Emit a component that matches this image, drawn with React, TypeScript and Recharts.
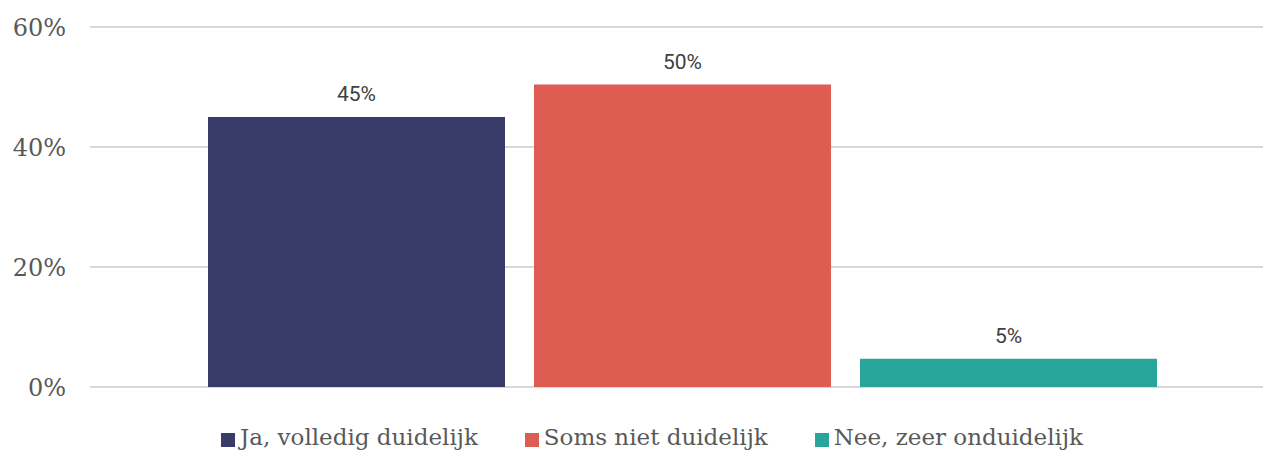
import React from "react";
import { BarChart, Bar, XAxis, YAxis, CartesianGrid, Legend, LabelList } from "recharts";

const categories = ["Antwoord"];
const seriesNames = ["Ja, volledig duidelijk", "Soms niet duidelijk", "Nee, zeer onduidelijk"];
const seriesValues = [45.0, 50.4, 4.7];
const seriesColors = ["#383b68", "#de5d52", "#2aa59b"];
const yTicks = [0, 20, 40, 60];

const data = categories.map((c) => {
  const row: Record<string, string | number> = { cat: c };
  seriesNames.forEach((n, i) => {
    row[n] = seriesValues[i];
  });
  return row;
});

const serif = "'DejaVu Serif', serif";

const LegendContent = () => (
  <div
    style={{
      height: 63,
      boxSizing: "border-box",
      paddingTop: 38,
      paddingLeft: 40,
      display: "flex",
      justifyContent: "center",
      alignItems: "flex-start",
      fontFamily: serif,
      fontSize: 23,
      lineHeight: "24px",
      color: "#595959",
      whiteSpace: "nowrap",
    }}
  >
    {seriesNames.map((n, i) => (
      <div
        key={n}
        style={{ display: "flex", alignItems: "flex-start", marginLeft: i === 0 ? 0 : 47 }}
      >
        <span
          style={{
            display: "inline-block",
            width: 14,
            height: 14,
            background: seriesColors[i],
            marginTop: 8,
            marginRight: 5,
          }}
        />
        <span>{n}</span>
      </div>
    ))}
  </div>
);

export default function App() {
  return (
    <div style={{ position: "absolute", left: 0, top: 0, width: 1264, height: 450, overflow: "hidden", background: "#fff" }}>
      <BarChart
        width={1264}
        height={450}
        data={data}
        margin={{ top: 27, right: 1, bottom: 0, left: 0 }}
        barGap={29}
        barSize={297}
      >
        <CartesianGrid vertical={false} stroke="#d9d9d9" strokeWidth={2} />
        <XAxis dataKey="cat" hide padding={{ left: 11, right: 0 }} />
        <YAxis
          width={90}
          domain={[0, 60]}
          ticks={yTicks}
          tickFormatter={(v: number) => `${v}%`}
          axisLine={false}
          tickLine={false}
          tickSize={0}
          tickMargin={24}
          tick={{ fontFamily: serif, fontSize: 24, fill: "#595959" }}
        />
        <Legend verticalAlign="bottom" align="center" content={<LegendContent />} wrapperStyle={{ left: 0, width: 1264 }} />
        {seriesNames.map((n, i) => (
          <Bar key={n} dataKey={n} fill={seriesColors[i]} isAnimationActive={false}>
            <LabelList
              dataKey={n}
              position="top"
              offset={16}
              formatter={(v: number) => `${Math.round(v)}%`}
              style={{ fontFamily: "Roboto, sans-serif", fontSize: 21, fill: "#404040" }}
            />
          </Bar>
        ))}
      </BarChart>
    </div>
  );
}
